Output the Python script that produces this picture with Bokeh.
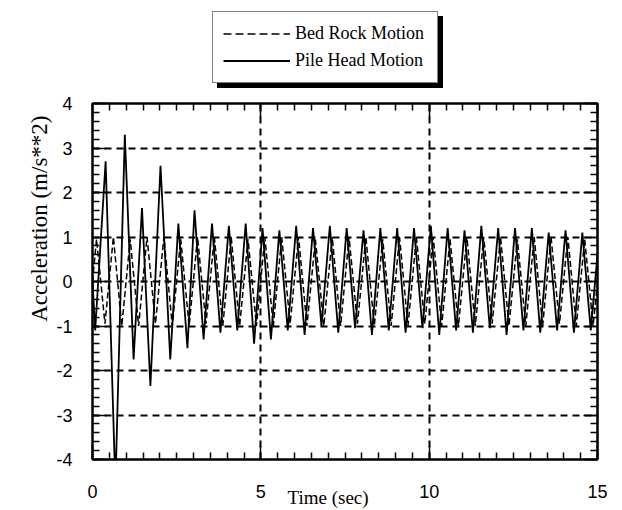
from bokeh.plotting import figure
from bokeh.layouts import column
from bokeh.models import (Range1d, LinearAxis, SingleIntervalTicker, Legend,
                          LegendItem, Title, PrintfTickFormatter)
from bokeh.embed import file_html
from bokeh.resources import INLINE

# ---- data (extrema of each trace) ----
pile_t = [0.00, 0.08, 0.39, 0.68, 0.96, 1.22, 1.47, 1.72, 2.02, 2.31, 2.55,
          2.82, 3.03, 3.30, 3.55, 3.80, 4.05, 4.30, 4.55, 4.80, 5.05, 5.30,
          5.55, 5.80, 6.05, 6.30, 6.55, 6.80, 7.05, 7.30, 7.55, 7.80, 8.05,
          8.30, 8.55, 8.80, 9.05, 9.30, 9.55, 9.80, 10.05, 10.30, 10.55,
          10.80, 11.05, 11.30, 11.55, 11.80, 12.05, 12.30, 12.55, 12.80,
          13.05, 13.30, 13.55, 13.80, 14.05, 14.30, 14.55, 14.80, 15.00]
pile_a = [0.00, -1.10, 2.70, -4.60, 3.30, -1.75, 1.65, -2.35, 2.60, -1.75,
          1.30, -1.50, 1.60, -1.30, 1.30, -1.15, 1.25, -1.10, 1.30, -1.40,
          1.20, -1.30, 1.15, -1.10, 1.25, -1.20, 1.20, -1.00, 1.25, -1.15,
          1.20, -1.05, 1.15, -1.20, 1.20, -1.10, 1.20, -1.15, 1.20, -1.05,
          1.25, -1.20, 1.20, -1.10, 1.15, -1.15, 1.25, -1.05, 1.20, -1.20,
          1.20, -1.10, 1.20, -1.15, 1.10, -1.10, 1.15, -1.15, 1.10, -1.10,
          0.60]

rock_t = [0.00, 0.12, 0.37, 0.62, 0.87, 1.12, 1.37, 1.62, 1.87, 2.12, 2.37,
          2.62, 2.87, 3.12, 3.37, 3.62, 3.87, 4.12, 4.37, 4.62, 4.87, 5.12,
          5.37, 5.62, 5.87, 6.12, 6.37, 6.62, 6.87, 7.12, 7.37, 7.62, 7.87,
          8.12, 8.37, 8.62, 8.87, 9.12, 9.37, 9.62, 9.87, 10.12, 10.37,
          10.62, 10.87, 11.12, 11.37, 11.62, 11.87, 12.12, 12.37, 12.62,
          12.87, 13.12, 13.37, 13.62, 13.87, 14.12, 14.37, 14.62, 14.87,
          15.00]
rock_a = [0.00, 0.95, -0.95, 1.00, -1.00, 0.95, -1.00, 1.00, -0.95, 1.00,
          -1.00, 0.95, -1.00, 1.00, -0.95, 1.00, -1.00, 1.00, -1.00, 0.95,
          -1.00, 1.00, -1.00, 1.00, -0.95, 1.00, -1.00, 0.95, -1.00, 1.00,
          -1.00, 1.00, -0.95, 1.00, -1.00, 0.95, -1.00, 1.00, -1.00, 1.00,
          -0.95, 1.00, -1.00, 0.95, -1.00, 1.00, -1.00, 1.00, -0.95, 1.00,
          -1.00, 0.95, -1.00, 1.00, -1.00, 1.00, -0.95, 1.00, -1.00, 0.95,
          -1.00, 0.00]

x_start, x_end = 0, 15
y_start, y_end = -4, 4
x_ticks_top = [0, 5, 10, 15]
y_ticks_right = [-4, -3, -2, -1, 0, 1, 2, 3, 4]
legend_labels = ["Bed Rock Motion", "Pile Head Motion"]
x_title = "Time (sec)"
y_title = "Acceleration (m/s**2)"

SERIF = "Liberation Serif"
SANS = "Liberation Sans"

# ---------------- legend strip (top) ----------------
TOP_H = 92
top = figure(width=622, height=TOP_H, output_backend="svg",
             toolbar_location=None, x_axis_location=None,
             y_axis_location=None, min_border_left=92, min_border_right=25,
             min_border_top=0, min_border_bottom=0,
             x_range=Range1d(92, 597), y_range=Range1d(0, TOP_H),
             background_fill_color="white", border_fill_color="white")
top.outline_line_color = None
top.grid.visible = False
# the series lines (they fall outside this strip's ranges, only their
# legend glyphs show)
k_rock = top.line(rock_t, rock_a, line_color="black", line_width=1.5,
                  line_dash="8 4")
k_pile = top.line(pile_t, pile_a, line_color="black", line_width=1.8)


def make_legend(labels, loc, shadow):
    lg = Legend(items=[LegendItem(label=labels[0], renderers=[k_rock]),
                       LegendItem(label=labels[1], renderers=[k_pile])],
                location=loc, orientation="vertical")
    lg.label_text_font = SERIF
    lg.label_text_font_size = "18px"
    lg.label_text_color = "black"
    lg.label_width = 132
    lg.glyph_width = 67
    lg.glyph_height = 23
    lg.label_height = 23
    lg.label_standoff = 5
    lg.padding = 10
    lg.spacing = 4
    lg.margin = 0
    lg.border_line_color = "black"
    lg.border_line_width = 1.5
    lg.background_fill_color = "black" if shadow else "white"
    lg.background_fill_alpha = 1
    return lg


# drop shadow (a black box of the same size), then the legend itself
top.add_layout(make_legend([" ", " "], (212 - 92 + 5, TOP_H - 88), True),
               "center")
top.add_layout(make_legend(legend_labels, (212 - 92, TOP_H - 83), False),
               "center")

# ---------------- main chart ----------------
p = figure(width=622, height=510 - TOP_H, output_backend="svg",
           toolbar_location=None,
           x_range=Range1d(x_start, x_end), y_range=Range1d(y_start, y_end),
           min_border_left=92, min_border_right=25, min_border_top=103 - TOP_H,
           min_border_bottom=51, background_fill_color="white",
           border_fill_color="white")
p.outline_line_color = "black"
p.outline_line_width = 2

for ax in (p.xaxis[0], p.yaxis[0]):
    ax.axis_line_width = 2
    ax.axis_line_color = "black"
    ax.major_tick_in = 14
    ax.major_tick_out = 0
    ax.minor_tick_in = 7
    ax.minor_tick_out = 0
    ax.major_tick_line_width = 1.5
    ax.minor_tick_line_width = 1.5
    ax.major_tick_line_color = "black"
    ax.minor_tick_line_color = "black"
    ax.major_label_text_font = SANS
    ax.major_label_text_font_size = "18px"
    ax.major_label_text_color = "black"
    ax.formatter = PrintfTickFormatter(format="%d")

p.xaxis[0].ticker = SingleIntervalTicker(interval=5, num_minor_ticks=10)
p.yaxis[0].ticker = SingleIntervalTicker(interval=1, num_minor_ticks=5)
p.xaxis[0].major_label_standoff = 25
p.yaxis[0].major_label_standoff = 20

# mirrored axes carrying only ticks
xt = LinearAxis(ticker=SingleIntervalTicker(interval=5, num_minor_ticks=10),
                major_label_overrides={t: "" for t in x_ticks_top})
yr = LinearAxis(ticker=SingleIntervalTicker(interval=1, num_minor_ticks=5),
                major_label_overrides={t: "" for t in y_ticks_right})
for ax in (xt, yr):
    ax.axis_line_width = 2
    ax.major_tick_in = 14
    ax.major_tick_out = 0
    ax.minor_tick_in = 7
    ax.minor_tick_out = 0
    ax.major_tick_line_width = 1.5
    ax.minor_tick_line_width = 1.5
    ax.major_label_standoff = 0
p.add_layout(xt, "above")
p.add_layout(yr, "right")

p.xgrid.ticker = SingleIntervalTicker(interval=5)
p.ygrid.ticker = SingleIntervalTicker(interval=1)
for g in (p.xgrid[0], p.ygrid[0]):
    g.grid_line_color = "black"
    g.grid_line_width = 2
    g.grid_line_dash = "7 5"

p.line(rock_t, rock_a, line_color="black", line_width=1.5, line_dash="6 3")
p.line(pile_t, pile_a, line_color="black", line_width=1.8)

# axis titles
p.add_layout(Title(text=y_title, align="right", offset=12, text_font=SERIF,
                   text_font_size="23px", text_font_style="normal",
                   text_color="black", standoff=4), "left")
p.add_layout(Title(text=x_title, align="left", offset=195, text_font=SERIF,
                   text_font_size="19px", text_font_style="normal",
                   text_color="black", vertical_align="top", standoff=-28),
             "below")

layout = column(top, p, spacing=0)
open("out.html", "w").write(file_html(layout, INLINE))
